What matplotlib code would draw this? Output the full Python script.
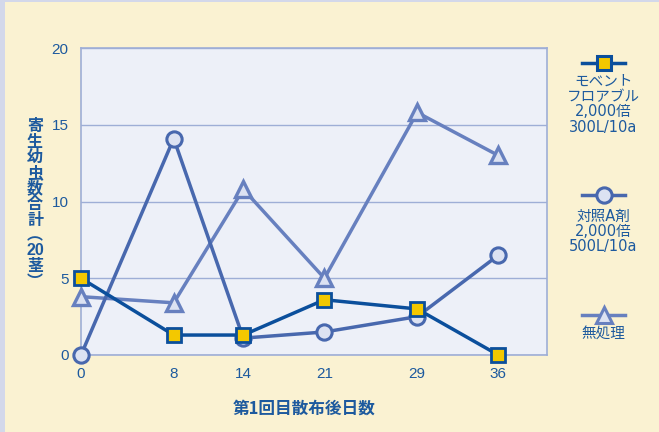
import matplotlib
matplotlib.use("Agg")
import matplotlib.pyplot as plt

plt.rcParams['font.family'] = ['Liberation Sans', 'Noto Sans CJK JP', 'DejaVu Sans']

days = [0, 8, 14, 21, 29, 36]
y_ticks = [0, 5, 10, 15, 20]
movento = [5.0, 1.3, 1.3, 3.6, 3.0, 0.0]
control_a = [0.0, 14.1, 1.1, 1.5, 2.5, 6.5]
untreated = [3.8, 3.4, 10.8, 5.0, 15.8, 13.0]

movento_label = "モベント\nフロアブル\n2,000倍\n300L/10a"
control_label = "対照A剤\n2,000倍\n500L/10a"
untreated_label = "無処理"
y_label_chars = ["寄", "生", "幼", "虫", "数", "合", "計", "︵", "20", "茎", "︶"]
x_label = "第1回目散布後日数"

BG = "#FAF2D2"
PLOT_BG = "#EDF0F8"
TEXT = "#1D5A9E"
GRID = "#9EAED6"
SQ_LINE = "#0B4F9C"
SQ_FACE = "#F3C800"
CI_LINE = "#4868AE"
TR_LINE = "#6780BF"
PALE = "#DCE2F2"

fig = plt.figure(figsize=(6.59, 4.32), dpi=100, facecolor=BG)
ax = fig.add_axes([81 / 659, 1 - 355 / 432, 466 / 659, 307 / 432])
ax.set_facecolor(PLOT_BG)

ax.plot(days, untreated, color=TR_LINE, lw=2.5, marker="^", ms=12,
        mfc=PALE, mec=TR_LINE, mew=2.4, clip_on=False, zorder=3)
ax.plot(days, control_a, color=CI_LINE, lw=2.5, marker="o", ms=11,
        mfc=PALE, mec=CI_LINE, mew=2.2, clip_on=False, zorder=4)
ax.plot(days, movento, color=SQ_LINE, lw=2.5, marker="s", ms=9.5,
        mfc=SQ_FACE, mec=SQ_LINE, mew=2.0, clip_on=False, zorder=5)

ax.set_xlim(0, 40.2)
ax.set_ylim(0, 20)
ax.set_xticks(days)
ax.set_yticks(y_ticks)
ax.tick_params(length=0, colors=TEXT, labelsize=11, pad=9)
ax.yaxis.grid(True, color=GRID, lw=1)
ax.set_axisbelow(True)
for s in ax.spines.values():
    s.set_color(GRID)
    s.set_linewidth(1.2)

# vertical y label, one character per row
y0 = 1 - 126 / 432
for i, ch in enumerate(y_label_chars):
    fig.text(35 / 659, y0 - i * 15.6 / 432, ch, color=TEXT, fontsize=11.5,
             fontweight="bold", ha="center", va="center",
             family=['Noto Sans CJK JP'] if ch != "20" else ['Liberation Sans'])

fig.text(304 / 659, 1 - 409 / 432, x_label, color=TEXT, fontsize=12,
         fontweight="bold", ha="center", va="center",
         family=['Noto Sans CJK JP'])

# legend at right
legend_items = [
    (63, "s", 9.5, SQ_LINE, SQ_FACE, movento_label, 74),
    (195, "o", 11, CI_LINE, PALE, control_label, 209),
    (315, "^", 12, TR_LINE, PALE, untreated_label, 327),
]
lax = fig.add_axes([0, 0, 1, 1], facecolor="none")
lax.set_xlim(0, 659)
lax.set_ylim(432, 0)
lax.axis("off")
for ly, mk, ms, lc, fc, label, ty in legend_items:
    lax.plot([582, 625], [ly, ly], color=lc, lw=2.5)
    lax.plot([603.5], [ly], marker=mk, ms=ms, mfc=fc, mec=lc, mew=2.2, ls="none")
    lax.text(603.5, ty, label, color=TEXT, fontsize=10.5, ha="center", va="top",
             linespacing=1.02, family=['DejaVu Sans', 'Noto Sans CJK JP'])

# left & top border strips
lax.add_patch(plt.Rectangle((0, 0), 5, 432, color="#D3D8EA", lw=0))
lax.add_patch(plt.Rectangle((0, 0), 659, 1.5, color="#D3D8EA", lw=0))

fig.savefig("out.png", dpi=100, facecolor=BG)
